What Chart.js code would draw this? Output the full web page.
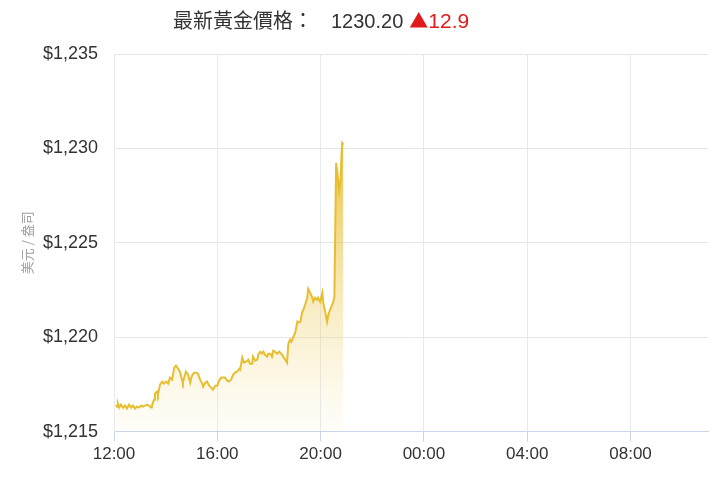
<!DOCTYPE html>
<html>
<head>
<meta charset="utf-8">
<script src="https://cdn.jsdelivr.net/npm/chart.js@4/dist/chart.umd.min.js"></script>
<style>
  body { margin: 0; background: #fff; }
  .wrap { position: relative; width: 720px; height: 480px; }
  .head {
    position: absolute; top: 8px; left: 173px;
    font: 20px "Liberation Sans", Arial, "Noto Sans CJK TC", sans-serif;
    line-height: 24px; color: #333; white-space: nowrap;
  }
  .head .price { margin-left: 18px; }
  .head .chg { color: #e01b1b; margin-left: 6px; font-size: 21px; }
  .head .tri { font-family: "Noto Sans CJK TC", sans-serif; font-size: 19px; }
</style>
</head>
<body>
<div class="wrap">
  <canvas id="myChart" width="720" height="480"></canvas>
  <div class="head">最新黃金價格：<span class="price">1230.20</span><span class="chg"><span class="tri">▲</span>12.9</span></div>
</div>
<script>
// 時間 (香港時間) 與金價
const times = ['12:05','12:07','12:09','12:12','12:16','12:21','12:26','12:30','12:35','12:40',
  '12:44','12:49','12:53','12:58','13:03','13:07','13:12','13:17','13:21','13:26',
  '13:28','13:33','13:35','13:40','13:42','13:47','13:52','13:56','14:01','14:06',
  '14:10','14:15','14:20','14:24','14:29','14:33','14:38','14:40','14:47','14:52',
  '14:57','15:01','15:06','15:11','15:15','15:20','15:25','15:27','15:32','15:36',
  '15:41','15:46','15:50','15:55','16:00','16:04','16:09','16:13','16:18','16:23',
  '16:27','16:32','16:37','16:41','16:46','16:51','16:53','16:58','17:02','17:07',
  '17:12','17:16','17:21','17:23','17:28','17:33','17:35','17:40','17:44','17:47',
  '17:51','17:56','17:58','18:03','18:07','18:10','18:14','18:19','18:24','18:26',
  '18:31','18:33','18:38','18:42','18:45','18:49','18:52','18:56','19:01','19:06',
  '19:08','19:13','19:17','19:20','19:24','19:29','19:31','19:36','19:40','19:43',
  '19:47','19:52','19:54','19:59','20:04','20:06','20:11','20:15','20:18','20:22',
  '20:27','20:29','20:32','20:36','20:39','20:43','20:46','20:50','20:53']
const prices = [1216.43,1216.32,1216.48,1216.27,1216.43,1216.27,1216.38,1216.22,1216.43,1216.27,
  1216.38,1216.22,1216.32,1216.27,1216.38,1216.32,1216.38,1216.43,1216.38,1216.27,
  1216.38,1216.69,1217.01,1217.12,1216.96,1217.49,1217.65,1217.54,1217.65,1217.54,
  1217.86,1217.75,1218.39,1218.49,1218.33,1218.17,1217.75,1217.59,1218.17,1218.02,
  1217.59,1217.96,1218.12,1218.12,1218.07,1217.75,1217.54,1217.38,1217.59,1217.65,
  1217.43,1217.33,1217.22,1217.43,1217.43,1217.70,1217.86,1217.86,1217.86,1217.70,
  1217.65,1217.75,1218.02,1218.12,1218.17,1218.33,1218.28,1218.92,1218.65,1218.70,
  1218.81,1218.60,1218.60,1218.97,1218.76,1218.81,1219.07,1219.23,1219.13,1219.23,
  1219.07,1218.97,1219.13,1219.13,1218.97,1219.29,1219.23,1219.13,1219.23,1219.18,
  1219.07,1218.97,1218.81,1218.65,1219.66,1219.87,1219.76,1219.97,1220.24,1220.82,
  1220.77,1220.82,1221.30,1221.46,1221.72,1222.09,1222.57,1222.35,1222.14,1221.88,
  1222.09,1221.98,1222.09,1221.88,1222.35,1221.83,1221.30,1220.82,1221.19,1221.46,
  1221.72,1221.83,1222.14,1229.23,1228.70,1227.80,1228.33,1230.29,1230.20]
const yTicks = [1215, 1220, 1225, 1230, 1235]
const xTickLabels = ['12:00', '16:00', '20:00', '00:00', '04:00', '08:00']

// 12:00 起計的分鐘數
const toMin = t => {
  const [h, m] = t.split(':').map(Number)
  return (h * 60 + m - 720 + 1440) % 1440
}
const points = times.map((t, i) => ({ x: toMin(t), y: prices[i] }))

const gold = 'rgb(231, 190, 48)'
const fillGrad = (context) => {
  const area = context.chart.chartArea
  if (!area) return 'rgba(230,188,45,0.3)'
  const g = context.chart.ctx.createLinearGradient(0, area.top, 0, area.bottom)
  g.addColorStop(0, 'rgba(228, 186, 40, 1)')
  g.addColorStop(0.3, 'rgba(232, 192, 55, 0.85)')
  g.addColorStop(0.65, 'rgba(238, 205, 95, 0.4)')
  g.addColorStop(1, 'rgba(245, 225, 150, 0.06)')
  return g
}

let ctx = document.querySelector('#myChart').getContext('2d')
let myChart = new Chart(ctx, {
  type: 'line',
  data: {
    datasets: [{
      data: points,
      borderColor: gold,
      borderWidth: 2,
      backgroundColor: fillGrad,
      fill: 'start',
      pointRadius: 0,
      tension: 0
    }]
  },
  options: {
    responsive: false,
    animation: false,
    layout: { padding: { top: 54, right: 12, bottom: 12, left: 0 } },
    plugins: { legend: { display: false }, tooltip: { enabled: false } },
    scales: {
      x: {
        type: 'linear',
        min: 0,
        max: 1380,
        afterBuildTicks: scale => {
          scale.ticks = xTickLabels.map((l, i) => ({ value: i * 240 }))
        },
        ticks: {
          autoSkip: false,
          maxRotation: 0,
          padding: 3,
          color: '#333',
          font: { family: '"Liberation Sans", Arial, sans-serif', size: 17 },
          callback: (v) => xTickLabels[v / 240]
        },
        grid: { color: '#e6e9f0', tickLength: 10, tickColor: '#ccd6eb' },
        border: { color: '#ccd6eb' }
      },
      y: {
        min: 1215,
        max: 1235,
        afterBuildTicks: scale => {
          scale.ticks = yTicks.map(v => ({ value: v }))
        },
        afterFit: scale => { scale.width = 114 },
        ticks: {
          padding: 16,
          color: '#333',
          font: { family: '"Liberation Sans", Arial, sans-serif', size: 18 },
          callback: v => '$' + v.toLocaleString('en-US')
        },
        grid: { color: '#e6e6e6', drawTicks: false },
        border: { color: '#e6e9f0' },
        title: {
          display: true,
          text: '美元 / 盎司',
          color: '#a0a0a0',
          padding: { top: 19, bottom: 0 },
          font: { family: '"Noto Sans CJK TC", sans-serif', size: 13 }
        }
      }
    }
  }
})
</script>
</body>
</html>
